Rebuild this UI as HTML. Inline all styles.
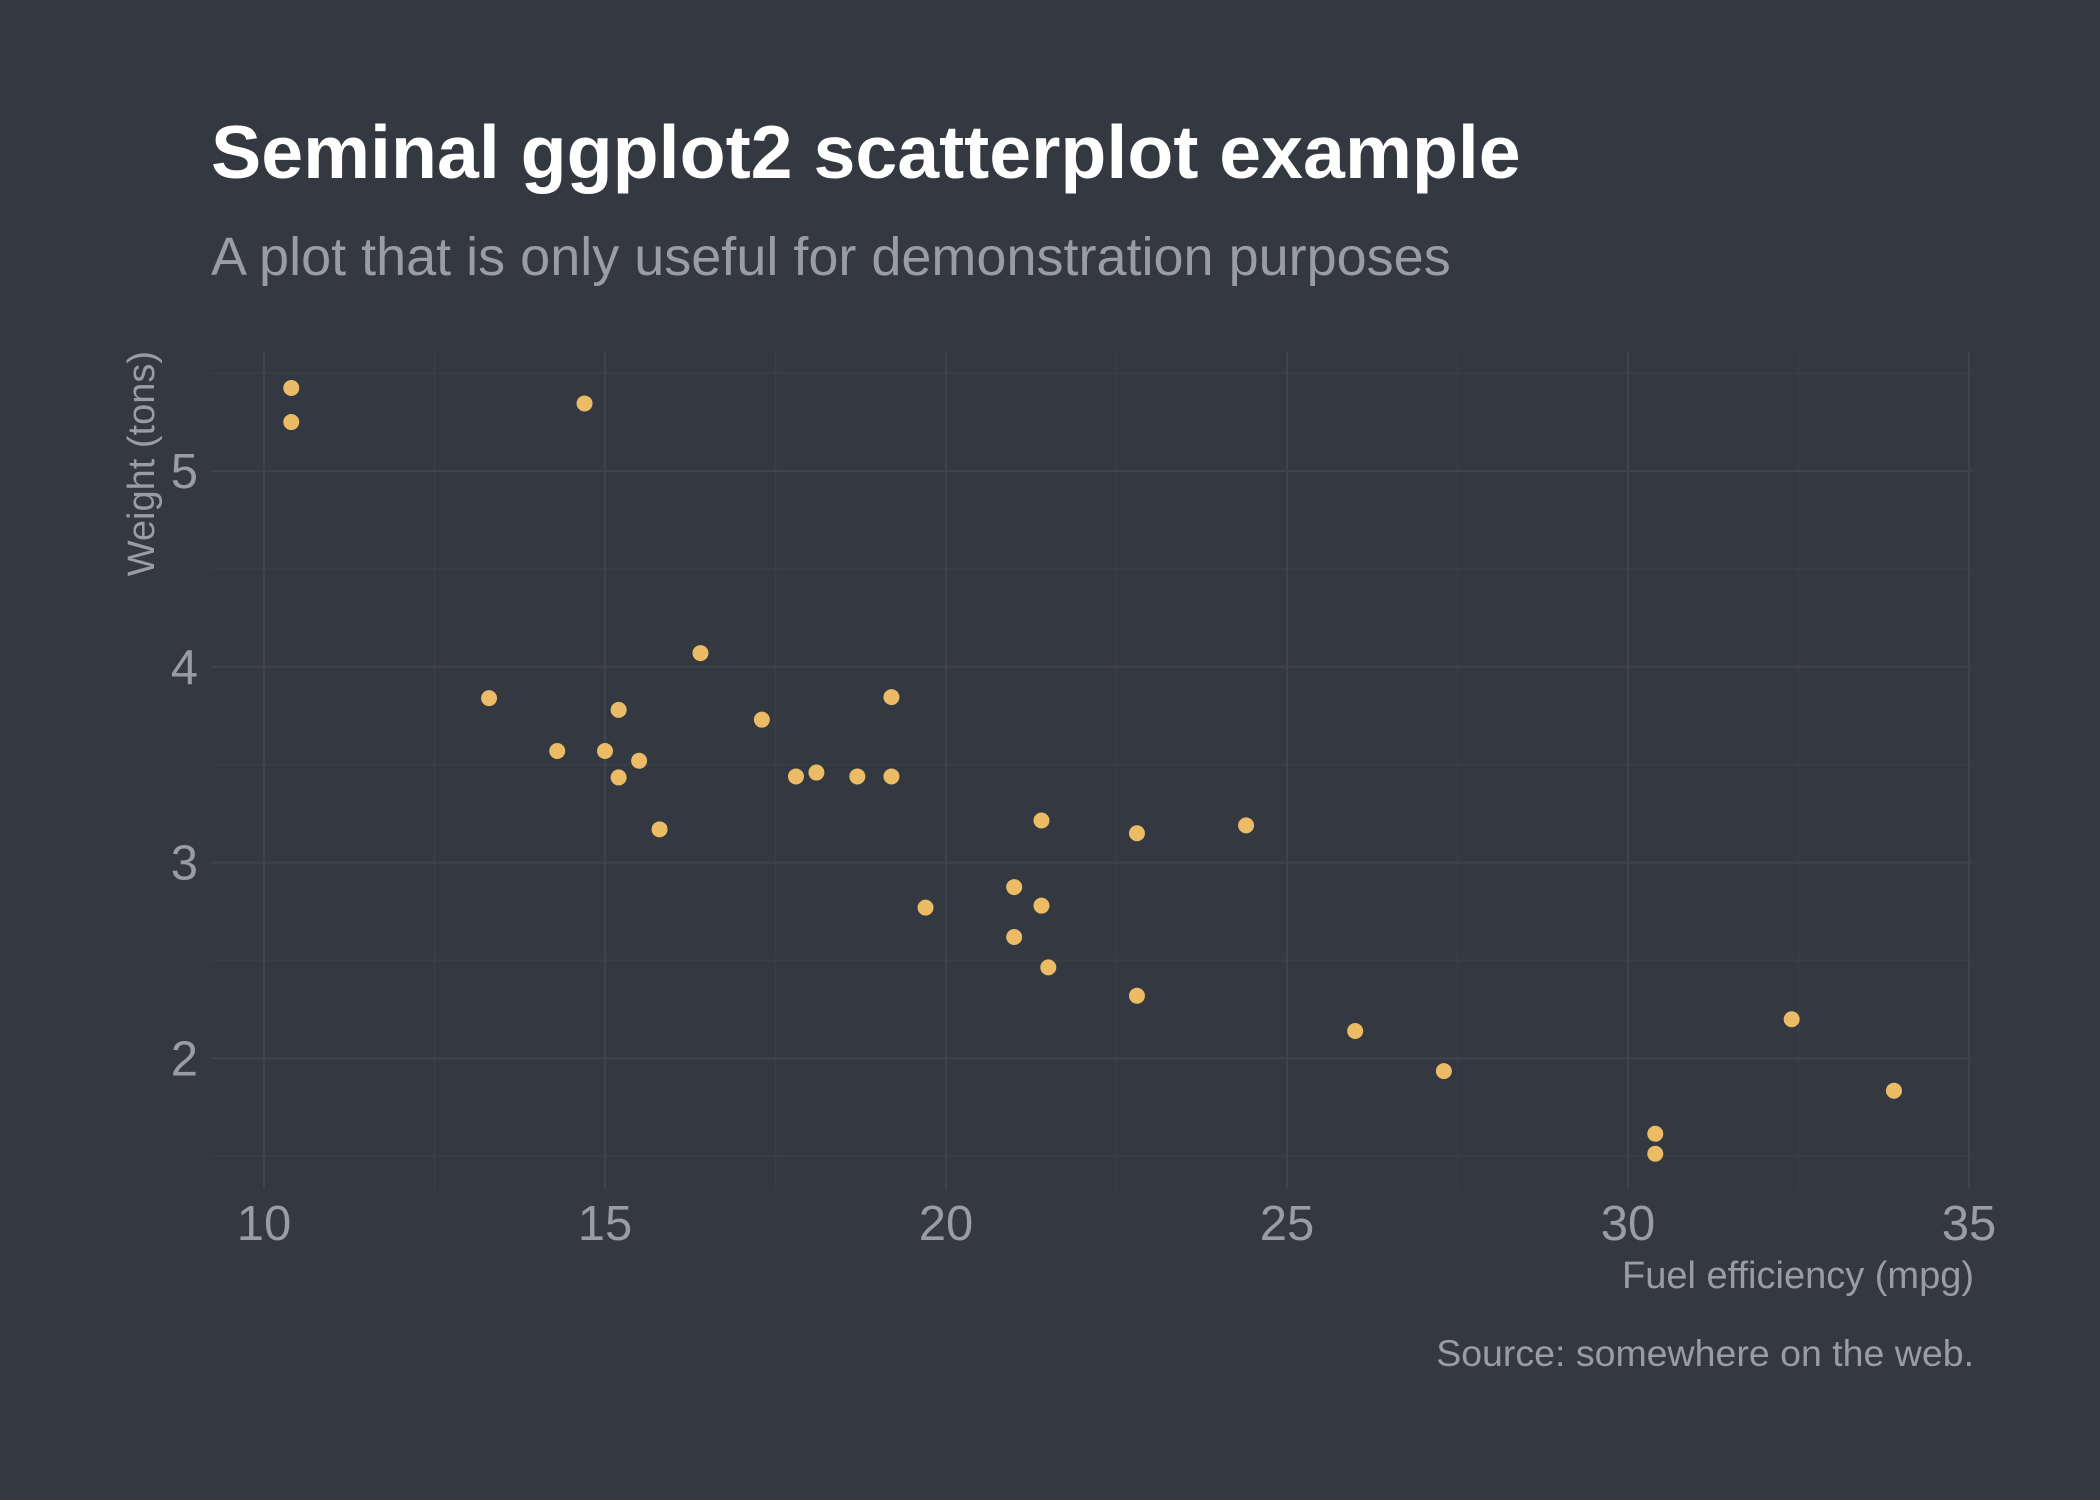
<!DOCTYPE html>
<html><head><meta charset="utf-8"><style>
html,body{margin:0;padding:0;background:#343840;}
svg{display:block;font-family:"Liberation Sans",sans-serif;}
</style></head><body>
<svg id="chart" width="2100" height="1500" viewBox="0 0 2100 1500">
<rect width="2100" height="1500" fill="#343840"/>
<text x="211" y="178" font-size="75.3" font-weight="bold" fill="#ffffff">Seminal ggplot2 scatterplot example</text>
<text x="211" y="275" font-size="54" fill="#9a9ca2">A plot that is only useful for demonstration purposes</text>
<g id="grid"></g>
<g id="ticks"></g>
<g id="points"></g>
<text x="1974" y="1288" font-size="38" fill="#9a9ca2" text-anchor="end">Fuel efficiency (mpg)</text>
<text transform="translate(154,351) rotate(-90)" font-size="38" fill="#9a9ca2" text-anchor="end">Weight (tons)</text>
<text x="1974" y="1366" font-size="37.5" fill="#9a9ca2" text-anchor="end">Source: somewhere on the web.</text>
</svg>
<script>
const mpg=[21.0,21.0,22.8,21.4,18.7,18.1,14.3,24.4,22.8,19.2,17.8,16.4,17.3,15.2,10.4,10.4,14.7,32.4,30.4,33.9,21.5,15.5,15.2,13.3,19.2,27.3,26.0,30.4,15.8,19.7,15.0,21.4];
const wt=[2.620,2.875,2.320,3.215,3.440,3.460,3.570,3.190,3.150,3.440,3.440,4.070,3.730,3.780,5.250,5.424,5.345,2.200,1.615,1.835,2.465,3.520,3.435,3.840,3.845,1.935,2.140,1.513,3.170,2.770,3.570,2.780];
const xTicks=[10,15,20,25,30,35];
const yTicks=[2,3,4,5];
const xMinor=[12.5,17.5,22.5,27.5,32.5];
const yMinor=[1.5,2.5,3.5,4.5,5.5];
const NS="http://www.w3.org/2000/svg";
const X=v=>264+(v-10)*68.2;
const Y=v=>471-(v-5)*195.8;
const L=211,R=1972,T=351,B=1189;
const grid=document.getElementById('grid'),ticks=document.getElementById('ticks'),pts=document.getElementById('points');
function line(x1,y1,x2,y2,c,w){const l=document.createElementNS(NS,'line');l.setAttribute('x1',x1);l.setAttribute('y1',y1);l.setAttribute('x2',x2);l.setAttribute('y2',y2);l.setAttribute('stroke',c);l.setAttribute('stroke-width',w);grid.appendChild(l);return l;}
xMinor.forEach(v=>{const l=line(X(v),T,X(v),B,'#3b3e45',1.5);

});
yMinor.forEach(v=>{const l=line(L,Y(v),R,Y(v),'#3b3e45',1.5);

});
xTicks.forEach(v=>{const l=line(X(v),T,X(v),B,'#40434a',2);


const t=document.createElementNS(NS,'text');t.setAttribute('x',X(v));t.setAttribute('y',1240);t.setAttribute('text-anchor','middle');t.setAttribute('font-size','49');t.setAttribute('fill','#9a9ca2');t.textContent=v;


ticks.appendChild(t);});
yTicks.forEach(v=>{const l=line(L,Y(v),R,Y(v),'#40434a',2);


const t=document.createElementNS(NS,'text');t.setAttribute('x',198);t.setAttribute('y',Y(v)+17);t.setAttribute('text-anchor','end');t.setAttribute('font-size','49');t.setAttribute('fill','#9a9ca2');t.textContent=v;


ticks.appendChild(t);});
mpg.forEach((m,i)=>{const c=document.createElementNS(NS,'circle');c.setAttribute('cx',X(m));c.setAttribute('cy',Y(wt[i]));c.setAttribute('r',8);c.setAttribute('fill','#ecbb66');


pts.appendChild(c);});
</script>
</body></html>
